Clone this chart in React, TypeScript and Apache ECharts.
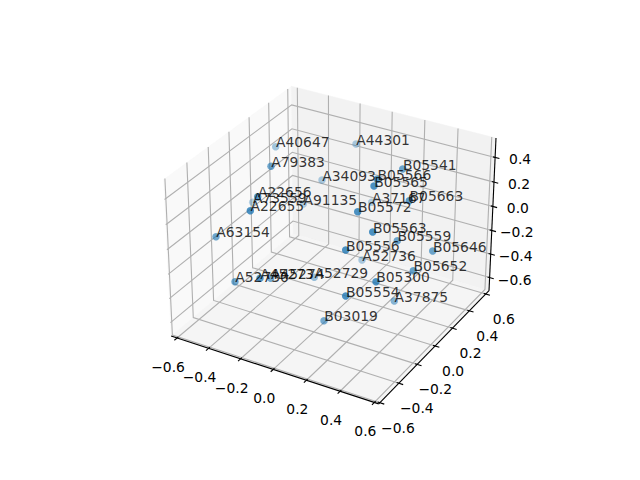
import React, { useEffect, useRef } from "react";
import * as echarts from "echarts";

// Point names as annotated in the figure
const names = [
  "A40647", "A44301", "A79383", "B05541", "A34093", "B05566", "B05565", "A22656", "A73559", "A91135",
  "A37167", "B05663", "A22655", "B05572", "B05563", "A63154", "B05559", "B05556", "B05646", "A52736",
  "B05652", "A45273", "A45274", "A52729", "A52730", "B05300", "B05554", "A37875", "B03019",
];
// Projected positions of the points in the figure plane
const projectedX = [
  275.7, 356, 271, 402.7, 322, 377.3, 374, 257.7, 252.7, 303.3,
  371.7, 409.3, 250.3, 357.7, 372.7, 216, 397.3, 345.7, 432.7, 362,
  413.3, 260, 270.7, 314.3, 235, 376, 345.7, 394.3, 324,
];
const projectedY = [
  146.7, 144, 166.3, 169, 180, 179.3, 186, 196.7, 202.3, 204,
  202.3, 200.7, 210.7, 211.7, 232, 236.7, 240.7, 250, 251, 260,
  270.7, 278.3, 278.3, 277.3, 281.7, 281.7, 296, 301, 320.7,
];
// Depth shade of each point (1 = nearest)
const pointDepth = [
  0.5, 0.45, 0.8, 0.8, 0.45, 0.9, 1, 0.95, 0.4, 0.4,
  0.4, 0.9, 1, 1, 1, 0.8, 0.8, 1, 0.8, 0.45,
  0.85, 0.95, 0.75, 0.55, 0.8, 1, 1, 0.65, 0.75,
];

const xTicks = [-0.6, -0.4, -0.2, 0.0, 0.2, 0.4, 0.6];
const yTicks = [-0.6, -0.4, -0.2, 0.0, 0.2, 0.4, 0.6];
const zTicks = [-0.6, -0.4, -0.2, 0.0, 0.2, 0.4];
const xLim = [-0.638, 0.625];
const yLim = [-0.612, 0.64];
const zLim = [-0.714, 0.555];

const FONT = '13.89px "DejaVu Sans"';
const fmt = (v: number) => (v < 0 ? "\u2212" : "") + Math.abs(v).toFixed(1);

// matplotlib's default 3D view: elev 30, azim -60, dist 10, box aspect 4:4:3
const K = (1.8294640721620434 * 25) / 24 / Math.sqrt(41);
const box = [4 * K, 4 * K, 3 * K];
const c30 = Math.cos(Math.PI / 6);
const s30 = 0.5;
const ca = 0.5;
const sa = -c30;
const W = [c30 * ca, c30 * sa, s30];
const U = [-sa, ca, 0];
const V = [-s30 * ca * 1, -s30 * sa, c30];
const SCALE = 369.6 / 0.185;

function project(x: number, y: number, z: number): number[] {
  const p = [
    ((x - xLim[0]) / (xLim[1] - xLim[0]) - 0.5) * box[0],
    ((y - yLim[0]) / (yLim[1] - yLim[0]) - 0.5) * box[1],
    ((z - zLim[0]) / (zLim[1] - zLim[0]) - 0.5) * box[2],
  ];
  const dot = (a: number[]) => a[0] * p[0] + a[1] * p[1] + a[2] * p[2];
  const d = 10 - dot(W);
  const X = dot(U) / d;
  const Y = dot(V) / d;
  return [143.2 + (X + 0.095) * SCALE, 480 - (52.8 + (Y + 0.095) * SCALE)];
}

function renderFrame(_: any, api: any) {
  const at = (x: number, y: number, z: number) => api.coord(project(x, y, z));
  const [x0, x1] = xLim;
  const [y0, y1] = yLim;
  const [z0, z1] = zLim;
  const children: any[] = [];
  const pane = (pts: number[][], fill: string) =>
    children.push({ type: "polygon", shape: { points: pts }, style: { fill, stroke: fill, lineWidth: 0.5 }, silent: true });
  const poly = (pts: number[][], stroke: string) =>
    children.push({ type: "polyline", shape: { points: pts }, style: { fill: "none", stroke, lineWidth: 1.11 }, silent: true });
  const label = (p: number[], dx: number, dy: number, v: number) =>
    children.push({
      type: "text",
      x: p[0] + dx,
      y: p[1] + dy,
      silent: true,
      style: { text: fmt(v), font: FONT, fill: "#000", align: "center", verticalAlign: "middle" },
    });

  pane([at(x0, y0, z0), at(x0, y1, z0), at(x0, y1, z1), at(x0, y0, z1)], "#f9f9f9");
  pane([at(x0, y1, z0), at(x1, y1, z0), at(x1, y1, z1), at(x0, y1, z1)], "#f2f2f2");
  pane([at(x0, y0, z0), at(x1, y0, z0), at(x1, y1, z0), at(x0, y1, z0)], "#f5f5f5");

  const GRID = "#b0b0b0";
  xTicks.forEach((t) => poly([at(t, y0, z0), at(t, y1, z0), at(t, y1, z1)], GRID));
  yTicks.forEach((t) => poly([at(x1, t, z0), at(x0, t, z0), at(x0, t, z1)], GRID));
  zTicks.forEach((t) => poly([at(x0, y0, t), at(x0, y1, t), at(x1, y1, t)], GRID));

  poly([at(x0, y0, z0), at(x1, y0, z0)], "#000");
  poly([at(x1, y0, z0), at(x1, y1, z0)], "#000");
  poly([at(x1, y1, z0), at(x1, y1, z1)], "#000");

  const dx = x1 - x0;
  const dy = y1 - y0;
  xTicks.forEach((t) => {
    poly([at(t, y0 + 0.01 * dy, z0), at(t, y0 - 0.02 * dy, z0)], "#000");
    label(at(t, y0, z0), -9, 29, t);
  });
  yTicks.forEach((t) => {
    poly([at(x1 - 0.01 * dx, t, z0), at(x1 + 0.02 * dx, t, z0)], "#000");
    label(at(x1, t, z0), 18, 25, t);
  });
  zTicks.forEach((t) => {
    poly([at(x1 - 0.01 * dx, y1, t), at(x1 + 0.02 * dx, y1, t)], "#000");
    label(at(x1, y1, t), 25, 2, t);
  });
  return { type: "group", children };
}

export default function App() {
  const ref = useRef<HTMLDivElement>(null);
  useEffect(() => {
    document.body.style.margin = "0";
    const chart = echarts.init(ref.current!, undefined, { renderer: "svg", width: 640, height: 480 });
    chart.setOption({
      animation: false,
      backgroundColor: "#fff",
      grid: { left: 0, top: 0, width: 640, height: 480 },
      xAxis: { type: "value", min: 0, max: 640, show: false },
      yAxis: { type: "value", min: 0, max: 480, inverse: true, show: false },
      series: [
        { type: "custom", coordinateSystem: "cartesian2d", data: [[0, 0]], renderItem: renderFrame, silent: true, z: 1, clip: false },
        {
          type: "scatter",
          z: 2,
          symbolSize: 7.5,
          silent: true,
          data: names.map((name, i) => ({
            name,
            value: [projectedX[i], projectedY[i]],
            itemStyle: { color: `rgba(31,119,180,${pointDepth[i]})` },
          })),
          label: {
            show: true,
            formatter: "{b}",
            position: [4, -7.75],
            align: "left",
            verticalAlign: "top",
            fontFamily: "DejaVu Sans",
            fontSize: 13.89,
            color: "#000",
          },
        },
      ],
    });
    return () => chart.dispose();
  }, []);
  return <div ref={ref} style={{ width: 640, height: 480 }} />;
}
